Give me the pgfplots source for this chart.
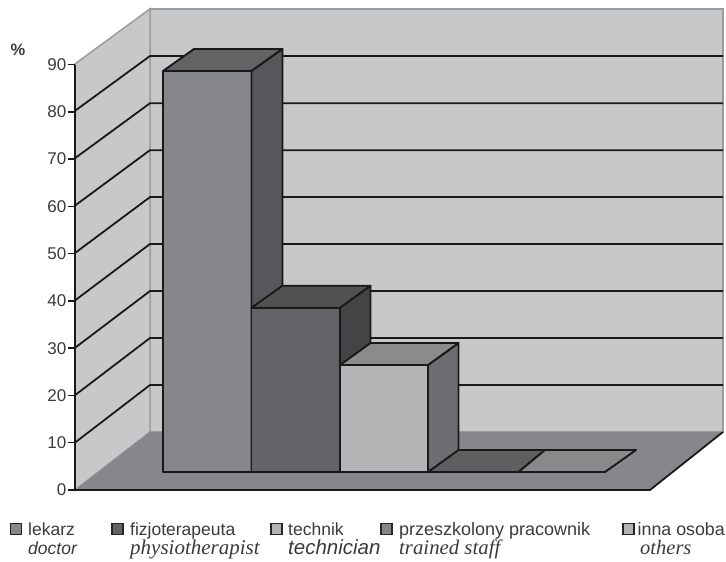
\documentclass[border=0pt]{standalone}
\usepackage{pgfplots}
\pgfplotsset{compat=1.18}
\usepackage{fontspec}
\setmainfont{Liberation Sans}
\newfontfamily\timesf{Liberation Serif}
\definecolor{txt}{HTML}{3A3A3C}
\definecolor{wall}{HTML}{C6C8CA}
\definecolor{wallb}{HTML}{999B9C}
\definecolor{floorc}{HTML}{85878A}
\definecolor{aF}{HTML}{85878A}
\definecolor{aT}{HTML}{636366}
\definecolor{aS}{HTML}{57575B}
\definecolor{bF}{HTML}{636467}
\definecolor{bT}{HTML}{515154}
\definecolor{bS}{HTML}{444447}
\definecolor{cF}{HTML}{B2B4B6}
\definecolor{cT}{HTML}{8B8B8E}
\definecolor{cS}{HTML}{6E6E72}
\definecolor{dT}{HTML}{5F5F62}
\definecolor{eT}{HTML}{87898B}
\newcommand{\fs}[1]{\fontsize{#1}{#1}\selectfont}
\pgfplotsset{
  poly/.style={draw=#1,line width=1.9pt,line join=round},
  grid3/.style={black!90,line width=1.8pt,no marks},
}
\begin{document}
\begin{tikzpicture}[x=1pt,y=1pt]
\path[use as bounding box] (0,0) rectangle (726,562);
% x in picture pixels, y in percent (4.74 px per 1 %, zero at the front left corner)
\begin{axis}[
  at={(0pt,0pt)},anchor=south west,
  width=726pt,height=562pt,scale only axis,
  xmin=0,xmax=726,ymin=-15.19,ymax=103.38,
  hide axis,clip=false,no marks]
% walls and floor
\addplot[fill=wall,draw=wallb,line width=1.5pt] coordinates {(150,12.24)(150,101.5)(723,101.5)(723,12.24)} -- cycle;
\addplot[fill=wall,draw=wallb,line width=1.5pt] coordinates {(75,0)(75,89.9)(150,101.5)(150,12.24)} -- cycle;
\addplot[fill=floorc,draw=none] coordinates {(75,0)(150,12.24)(723,12.24)(650,0)} -- cycle;
\addplot[wallb,line width=1pt] coordinates {(150,12.24)(723,12.24)};
% gridlines: side wall and back wall
\addplot[grid3] coordinates {(75,10)(150,22.15)(723,22.15)};
\addplot[grid3] coordinates {(75,20)(150,32.07)(723,32.07)};
\addplot[grid3] coordinates {(75,30)(150,41.98)(723,41.98)};
\addplot[grid3] coordinates {(75,40)(150,51.9)(723,51.9)};
\addplot[grid3] coordinates {(75,50)(150,61.8)(723,61.8)};
\addplot[grid3] coordinates {(75,60)(150,71.7)(723,71.7)};
\addplot[grid3] coordinates {(75,70)(150,81.6)(723,81.6)};
\addplot[grid3] coordinates {(75,80)(150,91.56)(723,91.56)};
% floor edges
\addplot[black!90,line width=1.8pt] coordinates {(75,0)(650,0)(723,12.24)};
% flat bars
\addplot[fill=dT,poly=black!90] coordinates {(428,3.8)(518.5,3.8)(545,8.44)(458,8.44)} -- cycle;
\addplot[fill=eT,poly=black!90] coordinates {(518.5,3.8)(605,3.8)(636,8.44)(545,8.44)} -- cycle;
% lekarz
\addplot[fill=aF,poly=black!90] coordinates {(163,3.8)(251.5,3.8)(251.5,88.4)(163,88.4)} -- cycle;
\addplot[fill=aT,poly=black!90] coordinates {(163,88.4)(251.5,88.4)(282.5,93.04)(194,93.04)} -- cycle;
\addplot[fill=aS,poly=black!90] coordinates {(251.5,3.8)(282.5,8.44)(282.5,93.04)(251.5,88.4)} -- cycle;
% fizjoterapeuta
\addplot[fill=bS,poly=black!90] coordinates {(340,3.8)(370.5,8.44)(370.5,43.1)(340,38.46)} -- cycle;
\addplot[fill=bF,poly=black!90] coordinates {(251.5,3.8)(340,3.8)(340,38.46)(251.5,38.46)} -- cycle;
\addplot[fill=bT,poly=black!90] coordinates {(251.5,38.46)(340,38.46)(370.5,43.1)(282.5,43.1)} -- cycle;
% technik
\addplot[fill=cS,poly=black!90] coordinates {(428,3.8)(458.5,8.44)(458.5,31.01)(428,26.37)} -- cycle;
\addplot[fill=cF,poly=black!90] coordinates {(340,3.8)(428,3.8)(428,26.37)(340,26.37)} -- cycle;
\addplot[fill=cT,poly=black!90] coordinates {(340,26.37)(428,26.37)(458.5,31.01)(370.5,31.01)} -- cycle;
% legend swatches
\addplot[fill=aF,draw=black!85,line width=1.6pt] coordinates {(10.5,-7.1)(21.5,-7.1)(21.5,-9.4)(10.5,-9.4)} -- cycle;
\addplot[fill=bF,draw=black!85,line width=1.6pt] coordinates {(112,-7.1)(123,-7.1)(123,-9.4)(112,-9.4)} -- cycle;
\addplot[fill=cF,draw=black!85,line width=1.6pt] coordinates {(271,-7.1)(282,-7.1)(282,-9.4)(271,-9.4)} -- cycle;
\addplot[fill=aF,draw=black!85,line width=1.6pt] coordinates {(381,-7.1)(392,-7.1)(392,-9.4)(381,-9.4)} -- cycle;
\addplot[fill=cF,draw=black!85,line width=1.6pt] coordinates {(623,-7.1)(634,-7.1)(634,-9.4)(623,-9.4)} -- cycle;
% legend text
\begin{scope}[every node/.style={anchor=base west,inner sep=0pt,text=txt}]
\node at (axis cs:28,-9.5) {\fs{17.5}lekarz};
\node at (axis cs:130,-9.5) {\fs{17.5}fizjoterapeuta};
\node at (axis cs:288,-9.5) {\fs{17.5}technik};
\node at (axis cs:399,-9.5) {\fs{18}przeszkolony pracownik};
\node at (axis cs:637.5,-9.5) {\fs{17.8}inna osoba};
\node at (axis cs:28,-13.7) {\fs{17.5}\itshape doctor};
\node at (axis cs:130,-13.7) {\fs{21}\timesf\itshape physiotherapist};
\node at (axis cs:288,-13.7) {\fs{20.5}\itshape technician};
\node at (axis cs:399,-13.7) {\fs{20.8}\timesf\itshape trained staff};
\node at (axis cs:640,-13.7) {\fs{20.5}\timesf\itshape others};
\node[anchor=center] at (axis cs:18,92.8) {\fs{16.5}\bfseries\%};
\end{scope}
\end{axis}
% value axis
\begin{axis}[
  at={(75pt,72pt)},anchor=south west,
  width=20pt,height=425.4pt,scale only axis,
  xmin=0,xmax=1,ymin=0,ymax=90,
  axis x line=none,axis y line=left,
  axis line style={black!90,line width=1.8pt,-},
  ytick={0,10,...,90},
  tick align=outside,
  major tick length=7pt,
  tick style={black!90,line width=1.5pt},
  tick label style={text=txt,font=\fs{17}},
  /pgf/number format/assume math mode=true,
  yticklabel style={inner sep=1.5pt},
  ]
\addplot[draw=none] coordinates {(0,0)(0,90)};
\end{axis}
\end{tikzpicture}
\end{document}
